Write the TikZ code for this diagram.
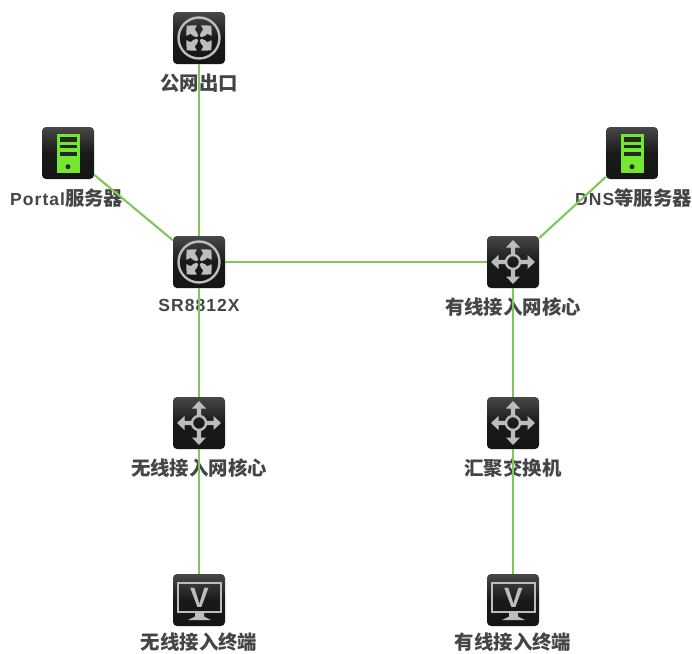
\documentclass[tikz,border=0pt]{standalone}
\usepackage{fontspec}
\setmainfont{Liberation Sans}
\newfontfamily\cjk{Noto Sans CJK SC}
\newfontfamily\latinf[LetterSpace=6,BoldFont={Liberation Sans Bold}]{Liberation Sans}
\definecolor{linkgreen}{HTML}{7FC857}
\definecolor{glyphgray}{HTML}{BDBDBD}
\definecolor{srvgreen}{HTML}{74E82E}
\definecolor{labelgray}{HTML}{454545}
\tikzset{
  iconbox/.style={minimum size=52pt,inner sep=0pt,rounded corners=4pt,top color=black!72,bottom color=black!92,middle color=black!90},
  link/.style={draw=linkgreen,line width=2.1pt},
  lab/.style={inner sep=0pt,text=labelgray,font=\fontsize{19.4}{21}\selectfont\bfseries\cjk},
}
\newcommand{\latin}[1]{{\fontsize{17.5}{20}\selectfont\latinf\bfseries #1}}
\newcommand{\routerglyph}[1]{%
  \begin{scope}[shift={(#1)}]
    \draw[glyphgray,line width=2.4pt] (0,0) circle (20.5);
    \foreach \a in {45,135,225,315}{
      \begin{scope}[rotate=\a]
        \fill[glyphgray] (17.5,0) -- (10.5,-7.5) -- (9,-3) .. controls (6,-2.5) and (4,-3) .. (2.2,-1) -- (2.2,1) .. controls (4,3) and (6,2.5) .. (9,3) -- (10.5,7.5) -- cycle;
      \end{scope}
    }
  \end{scope}}
\newcommand{\switchglyph}[1]{%
  \begin{scope}[shift={(#1)}]
    \draw[glyphgray,line width=2.4pt] (0,0) circle (7);
    \foreach \a in {0,90,180,270}{
      \begin{scope}[rotate=\a]
        \fill[glyphgray] (22,0) -- (14.5,-7) -- (14.5,-2.2) -- (8,-2.2) -- (8,2.2) -- (14.5,2.2) -- (14.5,7) -- cycle;
      \end{scope}
    }
  \end{scope}}
\newcommand{\serverglyph}[1]{%
  \begin{scope}[shift={(#1)}]
    \fill[srvgreen] (-11.5,-19) rectangle (11.5,20);
    \fill[black!85] (-8.5,-15.7) rectangle (8.5,-11.5);
    \fill[black!85] (-8.5,-8.5) rectangle (8.5,-4.7);
    \fill[black!85] (-8.5,-1.5) rectangle (8.5,2.7);
    \fill[black!85] (0,13.7) circle (2.5);
  \end{scope}}
\newcommand{\monitorglyph}[2]{%
  \begin{scope}[shift={(#1)}]
    \draw[glyphgray,line width=2.4pt] (-21,-17) rectangle (22,12);
    \fill[glyphgray] (-4,13) -- (5,13) -- (5,16.5) -- (12,20) -- (-11,20) -- (-4,16.5) -- cycle;
    \node[name=#2,inner sep=0pt,text=glyphgray,font=\fontsize{28}{28}\selectfont\bfseries] at (0.5,-2) {V};
  \end{scope}}
\begin{document}
\begin{tikzpicture}[x=1pt,y=-1pt]
\useasboundingbox[fill=white] (0,0) rectangle (692,653);
% icons
\node[iconbox] (pub) at (199,38) {};
\node[iconbox] (portal) at (68,153) {};
\node[iconbox] (sr) at (199,262) {};
\node[iconbox] (wcore) at (513,262) {};
\node[iconbox] (dns) at (632,153) {};
\node[iconbox] (wlcore) at (199,423) {};
\node[iconbox] (agg) at (513,423) {};
\node[iconbox] (wlterm) at (199,600) {};
\node[iconbox] (wterm) at (513,600) {};
% glyphs
\routerglyph{pub}
\routerglyph{sr}
\serverglyph{portal}
\serverglyph{dns}
\switchglyph{wcore}
\switchglyph{wlcore}
\switchglyph{agg}
\monitorglyph{wlterm}{vwl}
\monitorglyph{wterm}{vw}
% labels
\node[lab] (lpub) at (199,83) {公网出口};
\node[lab,anchor=west] (lportal) at (10,198) {\latin{Portal}服务器};
\node[lab] (lsr) at (199,305) {\latin{SR8812X}};
\node[lab] (lwcore) at (513,307) {有线接入网核心};
\node[lab,anchor=east] (ldns) at (692,198) {\latin{DNS}等服务器};
\node[lab] (lwlcore) at (199,468) {无线接入网核心};
\node[lab] (lagg) at (513,468) {汇聚交换机};
\node[lab] (lwlterm) at (199,642.5) {无线接入终端};
\node[lab] (lwterm) at (513,642.5) {有线接入终端};
% connectors
\draw[link] (pub) -- (sr);
\draw[link] (portal) -- (sr);
\draw[link] (sr) -- (wcore);
\draw[link] (wcore) -- (dns);
\draw[link] (sr) -- (wlcore);
\draw[link] (wlcore) -- (wlterm);
\draw[link] (wcore) -- (agg);
\draw[link] (agg) -- (wterm);
\end{tikzpicture}
\end{document}
